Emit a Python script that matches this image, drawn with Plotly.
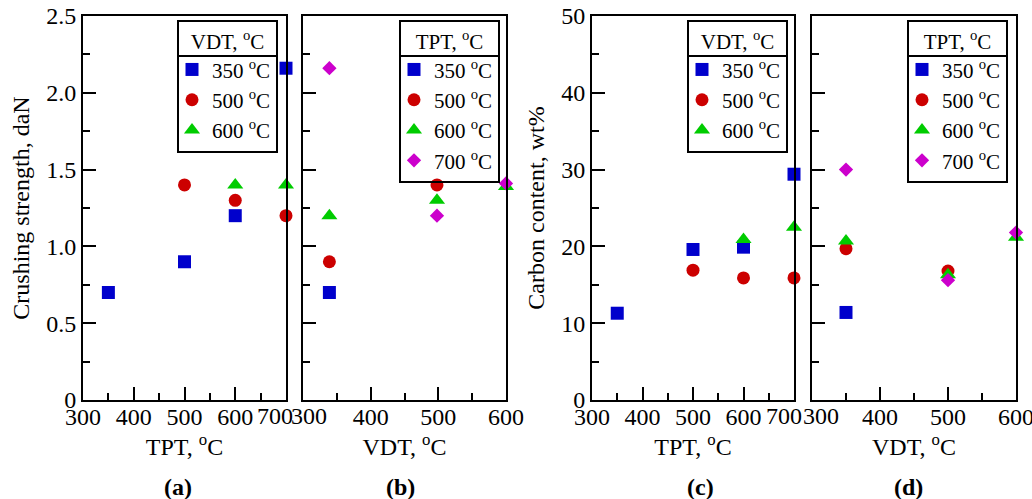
import plotly.graph_objects as go

W, H = 1032, 499
FONT = "Liberation Serif, Times New Roman, Times, serif"

# ---- (a) crushing strength vs TPT, one series per VDT ----
a_vdt350_x = [350, 500, 600, 700]
a_vdt350_y = [0.70, 0.90, 1.20, 2.16]
a_vdt500_x = [500, 600, 700]
a_vdt500_y = [1.40, 1.30, 1.20]
a_vdt600_x = [600, 700]
a_vdt600_y = [1.40, 1.40]

# ---- (b) crushing strength vs VDT, one series per TPT ----
b_tpt350_x = [339]
b_tpt350_y = [0.70]
b_tpt500_x = [339, 498]
b_tpt500_y = [0.90, 1.40]
b_tpt600_x = [339, 498, 600]
b_tpt600_y = [1.20, 1.30, 1.39]
b_tpt700_x = [339, 498, 600]
b_tpt700_y = [2.16, 1.20, 1.41]

# ---- (c) carbon content vs TPT, one series per VDT ----
c_vdt350_x = [350, 500, 600, 700]
c_vdt350_y = [11.3, 19.6, 19.9, 29.4]
c_vdt500_x = [500, 600, 700]
c_vdt500_y = [16.9, 15.9, 15.9]
c_vdt600_x = [600, 700]
c_vdt600_y = [20.9, 22.5]

# ---- (d) carbon content vs VDT, one series per TPT ----
d_tpt350_x = [350]
d_tpt350_y = [11.4]
d_tpt500_x = [350, 500]
d_tpt500_y = [19.7, 16.8]
d_tpt600_x = [350, 500, 600]
d_tpt600_y = [20.7, 16.3, 21.2]
d_tpt700_x = [350, 500, 600]
d_tpt700_y = [30.0, 15.6, 21.8]

# tick values / labels
strength_ticks = [0, 0.5, 1.0, 1.5, 2.0, 2.5]
strength_labels = ["0", "0.5", "1.0", "1.5", "2.0", "2.5"]
carbon_ticks = [0, 10, 20, 30, 40, 50]
carbon_labels = ["0", "10", "20", "30", "40", "50"]
# where two panels meet, the touching end labels are nudged apart and set separately
tpt_ticks = [300, 400, 500, 600]
vdt_ticks = [400, 500, 600]
edge_labels = ["700", "300", "700", "300"]

temp_names = ["350 <sup>o</sup>C", "500 <sup>o</sup>C", "600 <sup>o</sup>C", "700 <sup>o</sup>C"]
panel_tags = ["(a)", "(b)", "(c)", "(d)"]

STYLE = [
    dict(symbol="square", color="#0000cc", size=13),
    dict(symbol="circle", color="#cc0000", size=13),
    dict(symbol="triangle-up", color="#00cc00", size=14),
    dict(symbol="diamond", color="#cc00cc", size=11),
]


def px_x(p):
    return p / W


def px_y(p):
    return (H - p) / H


fig = go.Figure()

panels = [
    ("x", "y", "legend", [(a_vdt350_x, a_vdt350_y), (a_vdt500_x, a_vdt500_y), (a_vdt600_x, a_vdt600_y)]),
    ("x2", "y2", "legend2", [(b_tpt350_x, b_tpt350_y), (b_tpt500_x, b_tpt500_y),
                             (b_tpt600_x, b_tpt600_y), (b_tpt700_x, b_tpt700_y)]),
    ("x3", "y3", "legend3", [(c_vdt350_x, c_vdt350_y), (c_vdt500_x, c_vdt500_y), (c_vdt600_x, c_vdt600_y)]),
    ("x4", "y4", "legend4", [(d_tpt350_x, d_tpt350_y), (d_tpt500_x, d_tpt500_y),
                             (d_tpt600_x, d_tpt600_y), (d_tpt700_x, d_tpt700_y)]),
]

for xa, ya, lg, series in panels:
    for i, (xs, ys) in enumerate(series):
        st = STYLE[i]
        fig.add_trace(go.Scatter(
            x=xs, y=ys, mode="markers", name=temp_names[i],
            xaxis=xa, yaxis=ya, legend=lg, cliponaxis=False,
            marker=dict(symbol=st["symbol"], color=st["color"], size=st["size"],
                        line=dict(width=0)),
        ))

# panel pixel boxes (left, right)
boxes = [(83, 286), (303, 506), (592, 794), (812, 1016)]
TOP, BOT = 16, 400

axis_common = dict(
    showline=True, linecolor="black", linewidth=2, mirror=True,
    ticks="inside", tickcolor="black", tickwidth=2, ticklen=13,
    showgrid=False, zeroline=False, automargin=False,
    tickfont=dict(family=FONT, size=24, color="black"),
    title_font=dict(family=FONT, size=24, color="black"),
)

xranges = [[300, 700], [300, 600], [300, 700], [300, 600]]
xtickv = [tpt_ticks, vdt_ticks, tpt_ticks, vdt_ticks]
xtitles = ["TPT, <sup>o</sup>C", "VDT, <sup>o</sup>C", "TPT, <sup>o</sup>C", "VDT, <sup>o</sup>C"]
yranges = [[0, 2.5], [0, 2.5], [0, 50], [0, 50]]
ytickv = [strength_ticks, strength_ticks, carbon_ticks, carbon_ticks]
ytickt = [strength_labels, strength_labels, carbon_labels, carbon_labels]
yminor = [0.25, 0.25, 5, 5]
ytitles = ["Crushing strength, daN", None, "Carbon content, wt%", None]

layout = {}
for k in range(4):
    sx = "" if k == 0 else str(k + 1)
    l, r = boxes[k]
    layout["xaxis" + sx] = dict(
        axis_common,
        domain=[px_x(l), px_x(r)], anchor="y" + sx, range=xranges[k],
        tickmode="array", tickvals=xtickv[k], ticktext=[str(v) for v in xtickv[k]],
        ticklabeloverflow="allow", ticklabelstandoff=-6,
        minor=dict(ticks="inside", ticklen=7, tickwidth=2, tickcolor="black", dtick=50, tick0=300),
        title=dict(text=xtitles[k], standoff=8),
    )
    layout["yaxis" + sx] = dict(
        axis_common,
        domain=[px_y(BOT), px_y(TOP)], anchor="x" + sx, range=yranges[k],
        tickmode="array", tickvals=ytickv[k], ticktext=ytickt[k],
        minor=dict(ticks="inside", ticklen=7, tickwidth=2, tickcolor="black", dtick=yminor[k], tick0=0),
        showticklabels=ytitles[k] is not None,
        title=dict(text=ytitles[k] or "", standoff=10),
    )

# legend boxes: left edge, top edge and width in pixels
legend_left = [177, 399, 687, 907]
legend_top = 20
legend_w = 100
legend_titles = ["VDT, <sup>o</sup>C", "TPT, <sup>o</sup>C", "VDT, <sup>o</sup>C", "TPT, <sup>o</sup>C"]
shapes = []
for k in range(4):
    key = "legend" if k == 0 else "legend" + str(k + 1)
    lx = legend_left[k]
    layout[key] = dict(
        x=px_x(lx), y=px_y(legend_top), xanchor="left", yanchor="top",
        bgcolor="rgba(255,255,255,0)", bordercolor="black", borderwidth=2,
        font=dict(family=FONT, size=21, color="black"),
        title=dict(text=legend_titles[k], side="top center",
                   font=dict(family=FONT, size=21, color="black")),
        itemwidth=30, tracegroupgap=0, indentation=-7,
    )
    # rule under the legend heading
    shapes.append(dict(
        type="line", xref="paper", yref="paper",
        x0=px_x(lx), x1=px_x(lx + legend_w), y0=px_y(legend_top + 36), y1=px_y(legend_top + 36),
        line=dict(color="black", width=2),
    ))

annotations = []
tag_x = [178, 400, 700, 908]
for k in range(4):
    annotations.append(dict(
        text="<b>" + panel_tags[k] + "</b>", x=px_x(tag_x[k]), y=px_y(487),
        xref="paper", yref="paper", showarrow=False, xanchor="center", yanchor="middle",
        font=dict(family=FONT, size=24, color="black"),
    ))

# end labels between adjacent panels
edge_x = [275, 309, 784, 821]
for k in range(4):
    annotations.append(dict(
        text=edge_labels[k], x=px_x(edge_x[k]), y=px_y(416),
        xref="paper", yref="paper", showarrow=False, xanchor="center", yanchor="middle",
        font=dict(family=FONT, size=24, color="black"),
    ))

fig.update_layout(
    width=W, height=H,
    margin=dict(l=0, r=0, t=0, b=0),
    paper_bgcolor="white", plot_bgcolor="white",
    showlegend=True,
    annotations=annotations,
    shapes=shapes,
    **layout,
)

fig.write_html("out.html")
